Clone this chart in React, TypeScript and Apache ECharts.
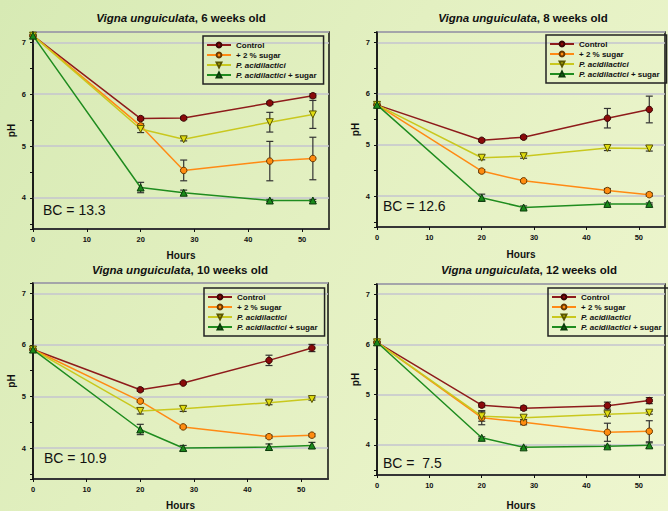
import React, { useEffect, useRef } from "react";
import * as echarts from "echarts";

const FONT = "'Liberation Sans', Arial, Helvetica, sans-serif";

const HOURS = [0, 20, 28, 44, 52];
const SERIES_NAMES = ["Control", "+ 2 % sugar", "P. acidilactici", "P. acidilactici + sugar"];
const SPECIES = "Vigna unguiculata";
const AGES = ["6 weeks old", "8 weeks old", "10 weeks old", "12 weeks old"];
const BC_LABELS = ["BC = 13.3", "BC = 12.6", "BC = 10.9", "BC =  7.5"];
const X_TICKS = [0, 10, 20, 30, 40, 50];
const Y_TICKS = [4, 5, 6, 7];

// 6 weeks old
const W6_CONTROL = [7.13, 5.53, 5.54, 5.83, 5.97];
const W6_CONTROL_ERR = [0, 0.03, 0.03, 0.03, 0.04];
const W6_SUGAR = [7.13, 5.39, 4.53, 4.71, 4.76];
const W6_SUGAR_ERR = [0, 0.04, 0.2, 0.38, 0.41];
const W6_PA = [7.13, 5.33, 5.13, 5.46, 5.61];
const W6_PA_ERR = [0, 0.07, 0.03, 0.19, 0.27];
const W6_PAS = [7.13, 4.2, 4.1, 3.95, 3.95];
const W6_PAS_ERR = [0, 0.1, 0.05, 0.02, 0.02];

// 8 weeks old
const W8_CONTROL = [5.78, 5.09, 5.15, 5.52, 5.69];
const W8_CONTROL_ERR = [0, 0.03, 0.03, 0.19, 0.26];
const W8_SUGAR = [5.78, 4.49, 4.3, 4.11, 4.03];
const W8_SUGAR_ERR = [0, 0.03, 0.02, 0.04, 0.03];
const W8_PA = [5.78, 4.75, 4.78, 4.94, 4.93];
const W8_PA_ERR = [0, 0.04, 0.04, 0.05, 0.05];
const W8_PAS = [5.78, 3.97, 3.78, 3.85, 3.85];
const W8_PAS_ERR = [0, 0.07, 0.03, 0.02, 0.02];

// 10 weeks old
const W10_CONTROL = [5.91, 5.13, 5.26, 5.7, 5.94];
const W10_CONTROL_ERR = [0, 0.03, 0.02, 0.1, 0.07];
const W10_SUGAR = [5.91, 4.91, 4.41, 4.22, 4.25];
const W10_SUGAR_ERR = [0, 0.02, 0.02, 0.03, 0.03];
const W10_PA = [5.91, 4.72, 4.76, 4.88, 4.95];
const W10_PA_ERR = [0, 0.06, 0.05, 0.04, 0.02];
const W10_PAS = [5.91, 4.36, 4.0, 4.02, 4.05];
const W10_PAS_ERR = [0, 0.1, 0.05, 0.06, 0.06];

// 12 weeks old
const W12_CONTROL = [6.04, 4.79, 4.73, 4.78, 4.88];
const W12_CONTROL_ERR = [0, 0.04, 0.04, 0.07, 0.06];
const W12_SUGAR = [6.04, 4.54, 4.45, 4.25, 4.27];
const W12_SUGAR_ERR = [0, 0.14, 0.05, 0.18, 0.21];
const W12_PA = [6.04, 4.57, 4.54, 4.61, 4.64];
const W12_PA_ERR = [0, 0.1, 0.04, 0.04, 0.03];
const W12_PAS = [6.04, 4.14, 3.95, 3.97, 3.99];
const W12_PAS_ERR = [0, 0.02, 0.02, 0.02, 0.05];

const PANEL_VALUES = [
  [W6_CONTROL, W6_SUGAR, W6_PA, W6_PAS],
  [W8_CONTROL, W8_SUGAR, W8_PA, W8_PAS],
  [W10_CONTROL, W10_SUGAR, W10_PA, W10_PAS],
  [W12_CONTROL, W12_SUGAR, W12_PA, W12_PAS],
];
const PANEL_ERRORS = [
  [W6_CONTROL_ERR, W6_SUGAR_ERR, W6_PA_ERR, W6_PAS_ERR],
  [W8_CONTROL_ERR, W8_SUGAR_ERR, W8_PA_ERR, W8_PAS_ERR],
  [W10_CONTROL_ERR, W10_SUGAR_ERR, W10_PA_ERR, W10_PAS_ERR],
  [W12_CONTROL_ERR, W12_SUGAR_ERR, W12_PA_ERR, W12_PAS_ERR],
];

// layout / style
const GRIDS = [
  { left: 33, top: 32, width: 296, height: 197 },
  { left: 377, top: 32, width: 303, height: 195 },
  { left: 33, top: 283, width: 295, height: 196 },
  { left: 377, top: 284, width: 298, height: 199 },
];
const TITLE_POS = [
  [181, 18],
  [523, 18],
  [180, 270],
  [529, 270],
];
const BC_POS = [
  [43, 210],
  [383, 206],
  [44, 458],
  [383, 463],
];
const LEGEND_POS = [
  [203, 36],
  [546, 35],
  [204, 288],
  [548, 288],
];
const HOURS_GAP = [21, 22, 21, 25];

const LINE_COLORS = ["#8e1b1b", "#ff8a14", "#c9c81e", "#1f8c1f"];
const MARK_FILL = ["#8a0a0a", "#ff8c10", "#e0dc10", "#1a8a1a"];
const MARK_BORDER = ["#3a0505", "#6a3a00", "#5a5600", "#0a3a0a"];
const SYMBOLS = ["circle", "circle", "triangle", "triangle"];
const SYMBOL_ROTATE = [0, 0, 180, 0];

export default function App() {
  const ref = useRef<HTMLDivElement>(null);

  useEffect(() => {
    if (!ref.current) return;
    const chart = echarts.init(ref.current, undefined, { renderer: "svg" });

    const grid = GRIDS.map((g) => ({
      ...g,
      show: true,
      borderColor: "#111",
      borderWidth: 1.5,
      backgroundColor: "transparent",
      containLabel: false,
    }));

    const xAxis = GRIDS.map((_, p) => ({
      gridIndex: p,
      type: "value",
      min: 0,
      max: 55,
      interval: 10,
      axisLine: { show: true, onZero: false, lineStyle: { color: "#111", width: 1.5 } },
      axisTick: { show: true, length: 3, lineStyle: { color: "#111", width: 1 }, customValues: X_TICKS },
      axisLabel: {
        fontSize: 7.5,
        fontWeight: "bold",
        color: "#111",
        fontFamily: FONT,
        margin: 6,
        formatter: (v: number) => (X_TICKS.indexOf(v) >= 0 ? String(v) : ""),
      },
      splitLine: { show: false },
      name: "Hours",
      nameLocation: "middle",
      nameGap: HOURS_GAP[p],
      nameTextStyle: { fontSize: 10, fontWeight: "bold", color: "#111", fontFamily: FONT, lineHeight: 10 },
    }));

    const yAxis = GRIDS.map((_, p) => ({
      gridIndex: p,
      type: "value",
      min: 3.4,
      max: 7.2,
      axisLine: { show: true, onZero: false, lineStyle: { color: "#111", width: 1.5 } },
      axisTick: { show: true, length: 3, lineStyle: { color: "#111", width: 1 } },
      minorTick: { show: true, splitNumber: 2, length: 3, lineStyle: { color: "#111", width: 1 } },
      axisLabel: {
        fontSize: 7.5,
        fontWeight: "bold",
        color: "#111",
        fontFamily: FONT,
        margin: 7,
        formatter: (v: number) => (Y_TICKS.indexOf(v) >= 0 ? String(v) : ""),
      },
      splitLine: { show: true, lineStyle: { color: "#c5c5cf", width: 1.5 } },
      name: "pH",
      nameLocation: "middle",
      nameGap: 17,
      nameRotate: 90,
      nameTextStyle: { fontSize: 10, fontWeight: "bold", color: "#111", fontFamily: FONT },
    }));

    const series: any[] = [];
    PANEL_VALUES.forEach((panel, p) => {
      panel.forEach((vals, s) => {
        const errs = PANEL_ERRORS[p][s];
        const errData = HOURS.map((h, i) => [h, vals[i] - errs[i], vals[i] + errs[i]]).filter(
          (_, i) => errs[i] > 0
        );
        series.push({
          type: "custom",
          name: "err-" + p + "-" + s,
          xAxisIndex: p,
          yAxisIndex: p,
          silent: true,
          z: 2,
          encode: { x: 0, y: [1, 2] },
          data: errData,
          renderItem: (params: any, api: any) => {
            const x = api.value(0);
            const top = api.coord([x, api.value(2)]);
            const bot = api.coord([x, api.value(1)]);
            const w = 3.5;
            const st = { stroke: "#333", lineWidth: 1.2 };
            return {
              type: "group",
              children: [
                { type: "line", shape: { x1: top[0], y1: top[1], x2: bot[0], y2: bot[1] }, style: st },
                { type: "line", shape: { x1: top[0] - w, y1: top[1], x2: top[0] + w, y2: top[1] }, style: st },
                { type: "line", shape: { x1: bot[0] - w, y1: bot[1], x2: bot[0] + w, y2: bot[1] }, style: st },
              ],
            };
          },
        });
      });
      panel.forEach((vals, s) => {
        series.push({
          type: "line",
          name: SERIES_NAMES[s],
          xAxisIndex: p,
          yAxisIndex: p,
          z: 3,
          data: HOURS.map((h, i) => [h, vals[i]]),
          symbol: SYMBOLS[s],
          symbolRotate: SYMBOL_ROTATE[s],
          symbolSize: SYMBOLS[s] === "circle" ? 6.5 : 7,
          showSymbol: true,
          lineStyle: { color: LINE_COLORS[s], width: 1.5 },
          itemStyle: { color: MARK_FILL[s], borderColor: MARK_BORDER[s], borderWidth: 1 },
          silent: true,
        });
      });
    });

    const richLegend = {
      i: { fontStyle: "italic", fontWeight: "bold", fontSize: 8, fontFamily: FONT, color: "#111" },
      n: { fontWeight: "bold", fontSize: 8, fontFamily: FONT, color: "#111" },
    };
    const legend = LEGEND_POS.map(([l, t]) => ({
      left: l,
      top: t,
      orient: "vertical",
      data: SERIES_NAMES,
      itemWidth: 24,
      itemHeight: 6,
      itemGap: 2,
      padding: [5, 7, 5, 3],
      borderColor: "#222",
      borderWidth: 1.5,
      selectedMode: false,
      textStyle: { fontSize: 8, fontWeight: "bold", fontFamily: FONT, color: "#111", rich: richLegend },
      formatter: (name: string) => {
        const key = "P. acidilactici";
        if (name.indexOf(key) === 0) {
          const rest = name.slice(key.length);
          return "{i|" + key + "}" + (rest ? "{n|" + rest + "}" : "");
        }
        return "{n|" + name + "}";
      },
    }));

    const titleRich = {
      i: { fontStyle: "italic", fontWeight: "bold", fontSize: 11.5, fontFamily: FONT, fill: "#111" },
      n: { fontWeight: "bold", fontSize: 11.5, fontFamily: FONT, fill: "#111" },
    };
    const graphic: any[] = [];
    AGES.forEach((age, p) => {
      graphic.push({
        type: "text",
        x: TITLE_POS[p][0],
        y: TITLE_POS[p][1],
        silent: true,
        style: {
          text: "{i|" + SPECIES + "}{n|, " + age + "}",
          rich: titleRich,
          align: "center",
          verticalAlign: "middle",
          fill: "#111",
        },
      });
      graphic.push({
        type: "text",
        x: BC_POS[p][0],
        y: BC_POS[p][1],
        silent: true,
        z: 10,
        style: {
          text: BC_LABELS[p],
          fontSize: 14,
          fontFamily: FONT,
          fill: "#111",
          verticalAlign: "middle",
          align: "left",
        },
      });
    });

    chart.setOption({
      animation: false,
      backgroundColor: "transparent",
      grid,
      xAxis,
      yAxis,
      legend,
      series,
      graphic,
    });

    return () => {
      chart.dispose();
    };
  }, []);

  return (
    <div
      style={{
        position: "fixed",
        left: 0,
        top: 0,
        width: 668,
        height: 511,
        overflow: "hidden",
        background: "linear-gradient(120deg, #d7eab4 0%, #e3f0c1 45%, #eef6cf 100%)",
      }}
    >
      <div ref={ref} style={{ width: 668, height: 511 }} />
    </div>
  );
}
